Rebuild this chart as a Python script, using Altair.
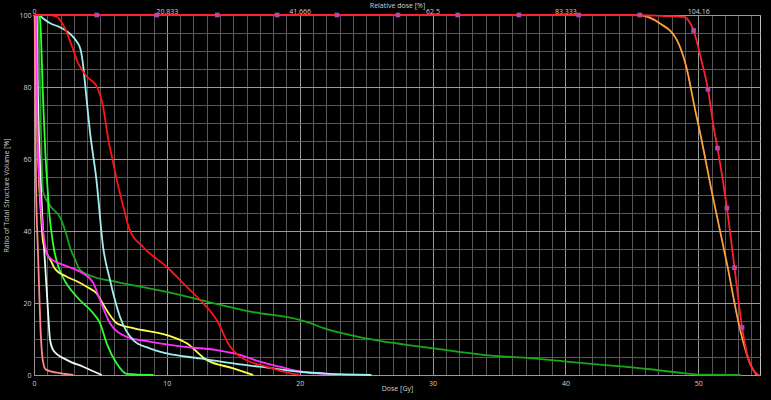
import altair as alt
import pandas as pd

# ---------------- data ----------------
ptv_dose = [0, 45.0, 47.5, 48.9, 49.4, 49.65, 50.2, 50.73, 51.2, 51.45, 52.16, 52.73, 53.3, 53.8, 54.2, 54.6]
ptv_vol = [100, 100, 99.7, 99.5, 97.7, 95.7, 88.0, 79.4, 68.0, 63.0, 46.4, 29.8, 13.2, 4.0, 1.0, 0]

ptv_mark_dose = [4.72, 9.24, 13.8, 18.3, 22.8, 27.4, 31.9, 36.5, 41.0, 45.6, 49.65, 50.73, 51.45, 52.16, 52.73, 53.3]
ptv_mark_vol = [100, 100, 100, 100, 100, 100, 100, 100, 100, 100, 95.7, 79.4, 63.0, 46.4, 29.8, 13.2]

orange_dose = [0, 45.4, 47.1, 48.4, 49.1, 49.77, 50.1, 51.1, 52.16, 53.16, 53.9, 54.4]
orange_vol = [100, 100, 97.7, 93.0, 85.6, 73.6, 68.0, 49.5, 31.0, 12.5, 3.2, 0]

oar_red_dose = [0, 1.0, 1.68, 2.31, 2.81, 3.31, 3.97, 4.7, 5.2, 5.6, 5.97, 6.23, 6.72, 7.2, 8.2, 10.0, 11.5, 12.75, 13.75, 14.76, 15.5, 17.5, 19.5, 20.0]
oar_red_vol = [100, 100, 99.6, 96.4, 91.8, 86.7, 82.9, 80.3, 74.5, 65.3, 58.8, 54.2, 46.8, 40.3, 35.6, 30.0, 24.5, 19.9, 15.3, 7.9, 5.1, 2.3, 0.3, 0]

cyan_dose = [0, 0.4, 0.6, 1.18, 2.06, 2.8, 3.2, 3.5, 3.7, 3.84, 4.09, 4.2, 4.7, 5.2, 5.72, 6.47, 7.47, 8.7, 10.0, 12.5, 15.0, 17.0, 20.0, 22.0, 25.4]
cyan_vol = [100, 100, 99.3, 97.8, 96.4, 94.5, 92.7, 90.5, 86.0, 81.0, 71.8, 68.0, 54.2, 35.6, 26.4, 16.2, 9.7, 7.4, 6.0, 4.6, 3.2, 2.3, 0.9, 0.4, 0]

dgreen_dose = [0, 0.32, 0.47, 0.6, 0.68, 1.18, 2.0, 2.4, 2.7, 3.06, 3.46, 4.47, 6.2, 10.0, 13.0, 16.3, 20.0, 20.8, 21.8, 25.0, 30.1, 33.8, 37.6, 40.1, 42.6, 46.4, 48.9, 50.2, 53.2]
dgreen_vol = [100, 99.5, 77.0, 57.0, 51.0, 47.2, 43.5, 39.5, 35.5, 32.4, 29.2, 27.3, 25.9, 23.1, 20.4, 17.6, 15.3, 14.4, 13.0, 10.2, 7.4, 5.6, 4.6, 3.7, 2.9, 1.6, 0.5, 0.1, 0]

lime_dose = [0, 0.35, 0.45, 0.68, 0.85, 1.0, 1.15, 1.3, 1.5, 1.8, 2.2, 3.2, 4.47, 4.97, 5.47, 6.23, 6.98, 9.0]
lime_vol = [100, 100, 99, 77, 62, 53, 45, 40, 35, 30.5, 27, 21.8, 17.1, 14.4, 8.8, 3.2, 0.3, 0]

yellow_dose = [0, 0.15, 0.22, 0.38, 0.5, 0.68, 0.93, 1.3, 1.56, 2.46, 3.3, 3.97, 4.7, 5.47, 6.23, 7.47, 10.0, 11.5, 13.0, 15.0, 16.5]
yellow_vol = [100, 99.5, 77, 54, 46, 37, 34.2, 31.5, 29.6, 27.3, 25.9, 24.5, 22.7, 18.0, 14.4, 13.0, 11.1, 8.8, 4.2, 1.85, 0]

magenta_dose = [0, 0.15, 0.22, 0.4, 0.55, 0.75, 1.0, 1.2, 2.06, 3.3, 3.7, 4.47, 4.97, 5.72, 6.98, 8.7, 11.2, 13.75, 15.5, 17.0, 18.5, 20.0, 22.0, 23.3]
magenta_vol = [100, 99.5, 77, 54, 45, 38, 33.5, 32.5, 30.8, 29.0, 28.2, 25.5, 20.8, 14.4, 10.6, 9.3, 7.9, 6.9, 5.6, 3.7, 2.3, 1.0, 0.3, 0]

white_dose = [0, 0.2, 0.3, 0.5, 0.65, 0.78, 0.95, 1.08, 1.2, 1.45, 2.46, 3.7, 5.1]
white_vol = [100, 99.5, 77, 54, 42, 34, 24, 16.2, 10, 6.9, 4.2, 2.3, 0]

pink_dose = [0, 0.05, 0.1, 0.15, 0.3, 0.42, 0.5, 0.6, 0.75, 0.9, 1.96, 2.96]
pink_vol = [100, 99.5, 77, 54, 34, 20, 12, 6, 2.5, 1.5, 0.5, 0]

top_tick_dose = [0, 10, 20, 30, 40, 50]
top_tick_labels = ["0", "20.833", "41.666", "62.5", "83.333", "104.16"]

# (name, dose, volume, colour) in drawing order (first is drawn at the bottom)
series = [
    ("dgreen", dgreen_dose, dgreen_vol, "#18a818"),
    ("lime", lime_dose, lime_vol, "#30ff30"),
    ("pink", pink_dose, pink_vol, "#ff8888"),
    ("white", white_dose, white_vol, "#e8fff0"),
    ("yellow", yellow_dose, yellow_vol, "#ffff50"),
    ("magenta", magenta_dose, magenta_vol, "#ff30ff"),
    ("cyan", cyan_dose, cyan_vol, "#a0f0f0"),
    ("oar_red", oar_red_dose, oar_red_vol, "#ff1414"),
    ("orange", orange_dose, orange_vol, "#ffa040"),
    ("ptv", ptv_dose, ptv_vol, "#ff2030"),
]

# ---------------- page background (black, no margin, like the reference) ----------------
try:
    import altair.utils.html as _h
    _orig_tpl = _h.TEMPLATES["standard"]

    class _BlackBody:
        def render(self, *a, **k):
            s = _orig_tpl.render(*a, **k)
            return s.replace("<body>", '<body style="background:#000000;margin:0">', 1)

    _h.TEMPLATES["standard"] = _BlackBody()
except Exception:
    pass

# ---------------- chart ----------------
FONT = "Open Sans"
LBL = "#d2d2d2"
MAJOR = "#9a9a9a"
MINOR = "#585858"
XMAX = 54.65

xscale = alt.Scale(domain=[0, XMAX], nice=False, zero=False)
yscale = alt.Scale(domain=[0, 100], nice=False, zero=False)

x_bottom = alt.Axis(
    values=list(range(0, 55)),
    labelExpr="datum.value % 10 === 0 ? datum.label : ''",
    grid=True,
    gridColor={"condition": {"test": "datum.value % 10 === 0", "value": MAJOR}, "value": MINOR},
    gridWidth=1,
    ticks=False,
    domain=False,
    labelColor=LBL,
    labelFont=FONT,
    labelFontSize=7,
    labelPadding=4,
    labelFlush=False,
    labelOverlap=False,
    title="Dose [Gy]",
    titleColor=LBL,
    titleFont=FONT,
    titleFontSize=7,
    titleFontWeight="normal",
    titleY=9,
    titleBaseline="top",
)

y_axis = alt.Axis(
    values=list(range(0, 101, 5)),
    labelExpr="datum.value % 20 === 0 ? datum.label : ''",
    grid=True,
    gridColor={"condition": {"test": "datum.value % 20 === 0", "value": MAJOR}, "value": MINOR},
    gridWidth=1,
    ticks=False,
    domain=False,
    labelColor=LBL,
    labelFont=FONT,
    labelFontSize=7,
    labelPadding=3,
    labelFlush=False,
    labelOverlap=False,
    title="Ratio of Total Structure Volume [%]",
    titleColor=LBL,
    titleFont=FONT,
    titleFontSize=7,
    titleFontWeight="normal",
    titleX=-28,
    titleBaseline="middle",
)

top_expr = ""
for d, lab in zip(top_tick_dose, top_tick_labels):
    top_expr += f"datum.value === {d} ? '{lab}' : "
top_expr += "''"

x_top = alt.Axis(
    orient="top",
    values=top_tick_dose,
    labelExpr=top_expr,
    grid=False,
    ticks=False,
    domain=False,
    labelColor=LBL,
    labelFont=FONT,
    labelFontSize=7,
    labelPadding=1,
    labelFlush=False,
    labelOverlap=False,
    title="Relative dose [%]",
    titleColor=LBL,
    titleFont=FONT,
    titleFontSize=7,
    titleFontWeight="normal",
    titleY=-10,
    titleBaseline="middle",
)

layers = []
for idx, (name, dose, vol, col) in enumerate(series):
    df = pd.DataFrame({"dose": dose, "vol": vol, "i": list(range(len(dose)))})
    if idx == 0:
        xenc = alt.X("dose:Q", scale=xscale, axis=x_bottom)
        yenc = alt.Y("vol:Q", scale=yscale, axis=y_axis)
    elif name == "ptv":
        xenc = alt.X("dose:Q", scale=xscale, axis=x_top)
        yenc = alt.Y("vol:Q", scale=yscale, axis=None)
    else:
        xenc = alt.X("dose:Q", scale=xscale, axis=None)
        yenc = alt.Y("vol:Q", scale=yscale, axis=None)
    layers.append(
        alt.Chart(df)
        .mark_line(interpolate="monotone", strokeWidth=1.8, color=col)
        .encode(x=xenc, y=yenc, order="i:Q")
    )

mark_df = pd.DataFrame({"dose": ptv_mark_dose, "vol": ptv_mark_vol})
layers.append(
    alt.Chart(mark_df)
    .mark_square(size=22, color="#b04aa8", opacity=1)
    .encode(
        x=alt.X("dose:Q", scale=xscale, axis=None),
        y=alt.Y("vol:Q", scale=yscale, axis=None),
    )
)

chart = (
    alt.layer(*layers)
    .resolve_axis(x="independent", y="independent")
    .properties(
        width=726,
        height=360,
        background="#000000",
        autosize=alt.AutoSizeParams(type="none"),
        padding={"left": 34, "top": 15, "right": 5, "bottom": 25},
    )
    .configure_view(stroke="#c4c4c4", strokeWidth=1)
)

chart.save("out.html", embed_options={"renderer": "svg", "actions": False})
